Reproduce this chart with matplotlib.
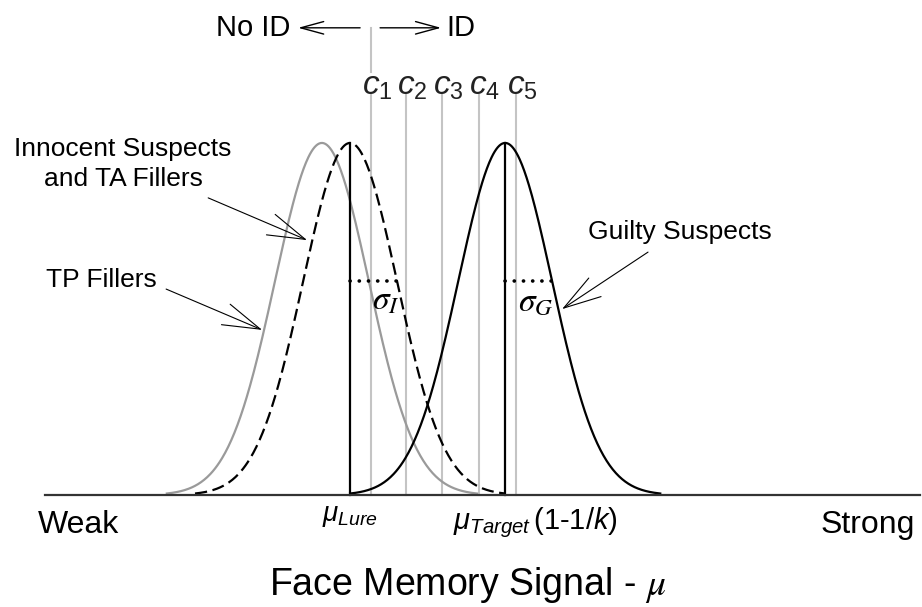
import numpy as np
import matplotlib
matplotlib.use('Agg')
import matplotlib.pyplot as plt

plt.rcParams['font.family'] = ['Liberation Sans', 'DejaVu Sans']
plt.rcParams['mathtext.fontset'] = 'custom'
plt.rcParams['mathtext.rm'] = 'Liberation Sans'
plt.rcParams['mathtext.it'] = 'Liberation Sans:italic'

# modelo (unidades de sigma)
sd = 1.0
mu_tp = -0.6        # TP fillers
mu_lure = 0.0       # inocentes / TA fillers
mu_target = 3.3     # culpables, mu_target*(1-1/k)
criterios = [0.45, 1.19, 1.96, 2.74, 3.53]
etiquetas_c = ['$c_1$', '$c_2$', '$c_3$', '$c_4$', '$c_5$']
rango = 3.3         # cuantas sd se dibuja cada curva

def curva(mu):
    x = np.linspace(mu - rango * sd, mu + rango * sd, 400)
    y = np.exp(-0.5 * ((x - mu) / sd) ** 2)
    return x, y

fig = plt.figure(figsize=(9.22, 6.07), dpi=100)
ax = fig.add_axes([0, 0, 1, 1])
ax.set_xlim(-7.45, 12.17)
ax.set_ylim(-0.318, 1.406)
ax.axis('off')

# criterios
for c in criterios:
    ax.plot([c, c], [0, 1.136], color='#c4c4c4', lw=1.5, zorder=1)
ax.plot([criterios[0], criterios[0]], [1.202, 1.327], color='#c4c4c4', lw=1.5, zorder=1)
for c, lab in zip(criterios, etiquetas_c):
    ax.text(c - 0.2, 1.136, lab, fontsize=24, ha='left', va='baseline', color='#222222')

# distribuciones
x, y = curva(mu_tp)
ax.plot(x, y, color='#9a9a9a', lw=1.6, zorder=3)
x, y = curva(mu_lure)
ax.plot(x, y, color='black', lw=1.6, ls=(0, (5.5, 2.5)), zorder=3)
x, y = curva(mu_target)
ax.plot(x, y, color='black', lw=1.6, zorder=3)

# medias y sigmas
for m in [mu_lure, mu_target]:
    ax.plot([m, m], [0, 1], color='black', lw=1.6, zorder=4)
    ax.plot([m, m + sd], [np.exp(-0.5)] * 2, color='black', lw=2.6,
            ls=(0, (0.05, 2.5)), dash_capstyle='round', zorder=4)
ax.text(mu_lure + 0.47, 0.528, r'$\sigma_I$', fontsize=24, math_fontfamily='stix')
ax.text(mu_target + 0.27, 0.525, r'$\sigma_G$', fontsize=24, math_fontfamily='stix')

# eje
ax.plot([-6.49, 12.13], [0, 0], color='#333333', lw=1.6, zorder=5)

# No ID / ID
flecha = dict(arrowstyle='->,head_length=1.65,head_width=0.45', lw=1.0,
              color='black', shrinkA=0, shrinkB=0, mutation_scale=10)
ax.annotate('', xy=(-1.106, 1.327), xytext=(0.213, 1.327), arrowprops=flecha)
ax.annotate('', xy=(1.936, 1.327), xytext=(0.638, 1.327), arrowprops=flecha)
ax.text(-1.277, 1.327, 'No ID', fontsize=21, ha='right', va='center')
ax.text(2.04, 1.327, 'ID', fontsize=21, ha='left', va='center')

# etiquetas con flechas
flecha2 = dict(arrowstyle='->,head_length=2.7,head_width=0.8', lw=0.8,
               color='black', shrinkA=0, shrinkB=0, mutation_scale=10)
ax.text(-4.83, 0.94, 'Innocent Suspects\nand TA Fillers', fontsize=19,
        ha='center', va='center', linespacing=1.35)
ax.annotate('', xy=(-0.915, 0.724), xytext=(-3.02, 0.844), arrowprops=flecha2)
ax.text(-5.30, 0.611, 'TP Fillers', fontsize=19, ha='center', va='center')
ax.annotate('', xy=(-1.872, 0.469), xytext=(-3.915, 0.585), arrowprops=flecha2)
ax.text(7.02, 0.747, 'Guilty Suspects', fontsize=19, ha='center', va='center')
ax.annotate('', xy=(4.51, 0.528), xytext=(6.34, 0.690), arrowprops=flecha2)

# textos inferiores
ax.text(-6.64, -0.108, 'Weak', fontsize=23, ha='left', va='baseline')
ax.text(12.02, -0.108, 'Strong', fontsize=23, ha='right', va='baseline')
ax.text(-0.60, -0.074, r'$\mu_{Lure}$', fontsize=20, ha='left', va='baseline')
ax.text(2.19, -0.097, r'$\mu_{Target}\,$(1-1/$k$)', fontsize=21, ha='left', va='baseline')
ax.text(2.51, -0.284, r'Face Memory Signal - $\mu$', fontsize=27, ha='center',
        va='baseline', math_fontfamily='stix')

fig.savefig('out.png', dpi=100)
